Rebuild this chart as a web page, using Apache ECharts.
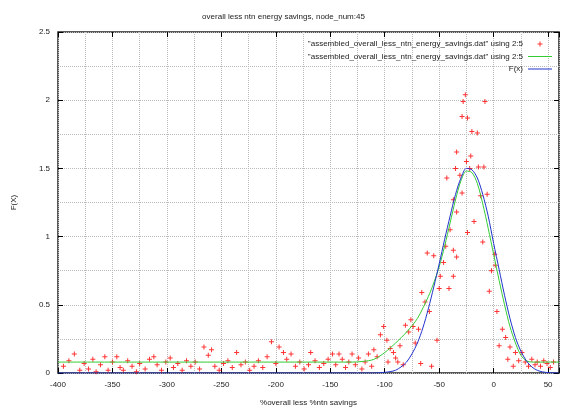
<!DOCTYPE html>
<html>
<head>
<meta charset="utf-8">
<script src="https://cdn.jsdelivr.net/npm/echarts@6/dist/echarts.min.js"></script>
<style>
  html, body { margin: 0; padding: 0; background: #fff; }
  #chart { width: 567px; height: 415px; }
</style>
</head>
<body>
<div id="chart"></div>
<script>
// data
var seriesNames = [
  '"assembled_overall_less_ntn_energy_savings.dat" using 2:5',
  '"assembled_overall_less_ntn_energy_savings.dat" using 2:5\u200b',
  'F(x)'
]
// red points [x, y]
var redPoints = [
  [-395, 0.05], [-390, 0.09], [-385, 0.14], [-380, 0.02], [-376, 0.07], [-372, 0.03],
  [-368, 0.1], [-365, 0.01], [-361, 0.06], [-357, 0.12], [-354, 0.02], [-350, 0.08],
  [-346, 0.12], [-343, 0.04], [-340, 0.02], [-336, 0.09], [-332, 0.05], [-328, 0.01],
  [-325, 0.07], [-320, 0.03], [-316, 0.1], [-312, 0.12], [-309, 0.06], [-305, 0.02],
  [-301, 0.08], [-297, 0.11], [-294, 0.04], [-290, 0.07], [-286, 0.02], [-282, 0.09],
  [-278, 0.05], [-274, 0.08], [-270, 0.03], [-266, 0.19], [-262, 0.13], [-259, 0.17],
  [-256, 0.05], [-252, 0.02], [-248, 0.07], [-244, 0.09], [-240, 0.04], [-236, 0.15],
  [-232, 0.06], [-228, 0.08], [-224, 0.02], [-220, 0.05], [-216, 0.09], [-212, 0.04],
  [-208, 0.12], [-204, 0.23], [-200, 0.07], [-197, 0.19], [-193, 0.15], [-190, 0.1],
  [-186, 0.14], [-182, 0.05], [-178, 0.08], [-174, 0.03], [-170, 0.06], [-168, 0.15],
  [-164, 0.09], [-160, 0.04], [-156, 0.07], [-152, 0.1], [-148, 0.14], [-145, 0.06],
  [-142, 0.14], [-139, 0.1], [-136, 0.04], [-133, 0.08], [-130, 0.14], [-127, 0.06],
  [-124, 0.11], [-121, 0.03], [-118, 0.08], [-115, 0.14], [-112, 0.05], [-110, 0.17],
  [-107, 0.12], [-104, 0.28], [-101, 0.34], [-98, 0.24], [-97, 0.08], [-95, 0.18],
  [-92, 0.15], [-90, 0.11], [-88, 0.08], [-86, 0.2], [-83, 0.06], [-81, 0.35],
  [-78, 0.3], [-76, 0.39], [-74, 0.34], [-72, 0.22], [-69, 0.32], [-67, 0.07],
  [-66, 0.59], [-63, 0.52], [-61, 0.88], [-59, 0.45], [-57, 0.05], [-55, 0.86],
  [-52, 0.24], [-50, 0.62], [-49, 0.71], [-46, 0.81], [-44, 0.93], [-43, 1.43],
  [-41, 0.62], [-40, 1.05], [-37, 0.71], [-37, 0.9], [-37, 1.27], [-35, 1.5],
  [-34, 0.85], [-34, 1.18], [-34, 1.62], [-31, 1.45], [-29, 1.32], [-29, 1.88],
  [-28, 1.99], [-26, 2.04], [-25, 1.55], [-24, 1.87], [-24, 1.03], [-22, 1.5],
  [-21, 1.59], [-20, 1.77], [-18, 1.11], [-15, 1.76], [-14, 1.51], [-12, 1.3],
  [-10, 0.96], [-9, 1.51], [-8, 1.99], [-6, 1.31], [-4, 0.6], [-2, 0.75],
  [1, 0.87], [1.5, 0.79], [3, 0.45], [5, 0.2], [8, 0.32], [11, 0.26],
  [13, 0.1], [15, 0.19], [18, 0.05], [20, 0.15], [23, 0.09], [26, 0.15],
  [29, 0.08], [32, 0.05], [35, 0.1], [38, 0.06], [40, 0.08], [43, 0.05],
  [46, 0.09], [49, 0.07], [52, 0.04], [55, 0.08]
]
// green line
var greenX = [-400, -300, -200, -130, -120, -110, -100, -90, -80, -70, -60, -55, -50, -45, -40, -35, -30, -25, -20, -15, -10, -5, 0, 5, 10, 15, 20, 25, 30, 35, 40, 60]
var greenY = [0.08, 0.08, 0.08, 0.08, 0.085, 0.1, 0.15, 0.22, 0.3, 0.4, 0.56, 0.66, 0.78, 0.93, 1.1, 1.27, 1.41, 1.48, 1.47, 1.39, 1.24, 1.06, 0.87, 0.68, 0.5, 0.34, 0.22, 0.13, 0.09, 0.08, 0.08, 0.08]
// blue line F(x)
var blueX = [-400, -110, -100, -95, -90, -85, -80, -75, -70, -65, -60, -55, -50, -45, -40, -35, -30, -25, -20, -15, -10, -5, 0, 5, 10, 15, 20, 25, 30, 35, 40, 45, 50, 60]
var blueY = [0, 0, 0.005, 0.01, 0.02, 0.045, 0.08, 0.14, 0.22, 0.33, 0.47, 0.63, 0.8, 0.98, 1.15, 1.31, 1.43, 1.5, 1.49, 1.43, 1.31, 1.15, 0.95, 0.76, 0.57, 0.4, 0.26, 0.16, 0.09, 0.045, 0.02, 0.008, 0.003, 0]

var font = 'Liberation Sans'
var txt = '#222'
var plusIcon = 'path://M0,0h0.01v0.01h-0.01zM23.99,7.99h0.01v0.01h-0.01zM11.5,1.5h1v2h2v1h-2v2h-1v-2h-2v-1h2z'
var lineIcon = 'path://M0,3.5h24v1h-24z'

function pairs(xs, ys) {
  return xs.map(function (x, i) { return [x, ys[i]] })
}

var chart = echarts.init(document.getElementById('chart'))
var option = {
  animation: false,
  backgroundColor: '#fff',
  title: {
    text: 'overall less ntn energy savings, node_num:45',
    left: 'center',
    top: 8,
    textStyle: { fontSize: 8, fontWeight: 'normal', fontFamily: font, color: txt }
  },
  legend: {
    orient: 'vertical',
    right: 10,
    top: 35,
    align: 'right',
    itemWidth: 24,
    itemHeight: 8,
    itemGap: 4.5,
    textStyle: { fontSize: 8, fontFamily: font, color: txt },
    formatter: function (n) { return n.replace('\u200b', '') },
    data: [
      { name: seriesNames[0], icon: plusIcon },
      { name: seriesNames[1], icon: lineIcon },
      { name: seriesNames[2], icon: lineIcon }
    ]
  },
  grid: { left: 58, right: 8, top: 32, bottom: 42, show: true, borderColor: '#222', borderWidth: 1.5 },
  xAxis: [
    {
      // dotted grid every 25
      type: 'value', min: -400, max: 60, interval: 25, position: 'top',
      axisLine: { show: false, onZero: false }, axisTick: { show: false }, axisLabel: { show: false },
      splitLine: { show: true, lineStyle: { type: 'dotted', color: '#bbb' } }
    },
    {
      type: 'value', min: -400, max: 60, interval: 50, position: 'bottom',
      axisLine: { show: false, onZero: false },
      axisTick: { inside: true, length: 5, lineStyle: { color: '#000' } },
      axisLabel: {
        margin: 8, fontSize: 8, fontFamily: font, color: txt,
        formatter: function (v) { return v > 50 ? '' : String(v) }
      },
      splitLine: { show: false },
      name: '%overall less %ntn savings',
      nameLocation: 'middle',
      nameGap: 26,
      nameTextStyle: { fontSize: 8, fontFamily: font, color: txt }
    },
    {
      type: 'value', min: -400, max: 60, interval: 50, position: 'top',
      axisLine: { show: false, onZero: false },
      axisTick: { inside: true, length: 5, lineStyle: { color: '#000' } },
      axisLabel: { show: false }, splitLine: { show: false }
    }
  ],
  yAxis: [
    {
      type: 'value', min: 0, max: 2.5, interval: 0.5, position: 'left',
      axisLine: { show: false, onZero: false },
      axisTick: { inside: true, length: 5, lineStyle: { color: '#000' } },
      axisLabel: { margin: 8, fontSize: 8, fontFamily: font, color: txt },
      splitLine: { show: true, lineStyle: { type: 'dotted', color: '#bbb' } },
      minorTick: { show: false, splitNumber: 2 },
      minorSplitLine: { show: true, lineStyle: { type: 'dotted', color: '#bbb' } },
      name: 'F(X)',
      nameLocation: 'middle',
      nameGap: 40,
      nameTextStyle: { fontSize: 8, fontFamily: font, color: txt }
    },
    {
      type: 'value', min: 0, max: 2.5, interval: 0.5, position: 'right',
      axisLine: { show: false, onZero: false },
      axisTick: { inside: true, length: 5, lineStyle: { color: '#000' } },
      axisLabel: { show: false }, splitLine: { show: false }
    }
  ],
  series: [
    {
      name: seriesNames[0],
      type: 'scatter',
      xAxisIndex: 1,
      symbol: 'path://M2,0h1v2h2v1h-2v2h-1v-2h-2v-1h2z',
      symbolSize: 5,
      itemStyle: { color: '#ff0000' },
      data: redPoints,
      z: 3
    },
    {
      name: seriesNames[1],
      type: 'line',
      xAxisIndex: 1,
      symbol: 'none',
      smooth: 0.3,
      lineStyle: { color: '#33cc33', width: 1 },
      itemStyle: { color: '#33cc33' },
      data: pairs(greenX, greenY),
      z: 4
    },
    {
      name: seriesNames[2],
      type: 'line',
      xAxisIndex: 1,
      symbol: 'none',
      smooth: 0.3,
      lineStyle: { color: '#2233cc', width: 1 },
      itemStyle: { color: '#2233cc' },
      data: pairs(blueX, blueY),
      z: 5
    }
  ]
}
chart.setOption(option)
</script>
</body>
</html>
